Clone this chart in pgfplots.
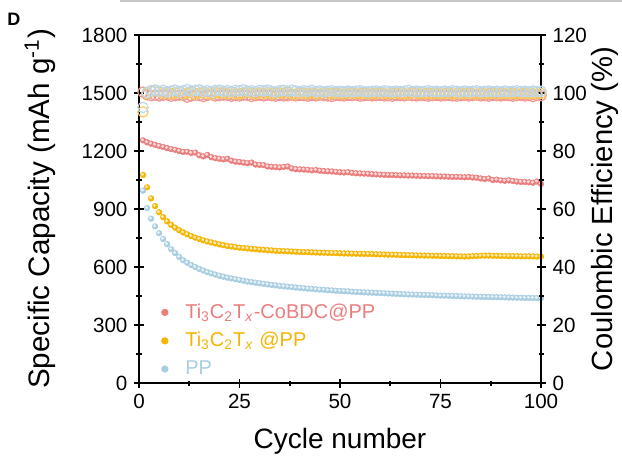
\documentclass[border=0pt]{standalone}
\usepackage{pgfplots}
\pgfplotsset{compat=1.18}
\usepackage{pgfplotstable}
\usepackage{fontspec}
\setmainfont{Liberation Sans}

\definecolor{cred}{RGB}{235,125,125}
\definecolor{cyel}{RGB}{245,180,0}
\definecolor{cblu}{RGB}{168,205,225}
\definecolor{cered}{RGB}{240,150,150}
\definecolor{ceyel}{RGB}{248,200,90}
\definecolor{ceblu}{RGB}{190,215,232}

% cycle, capacity (red, yellow, blue), coulombic efficiency (red, yellow, blue)
\pgfplotstableread{
c R Y B RC YC BC
1 1255 1076 995 100.3 93.5 95.0
2 1245 1012 905 99.4 99.8 100.2
3 1238 955 850 99.1 100.6 100.8
4 1232 915 810 99.3 100.9 101.0
5 1226 883 775 99.0 100.4 100.6
6 1221 858 745 99.2 99.8 100.9
7 1215 836 718 99.4 100.2 100.4
8 1210 818 692 98.9 99.6 100.7
9 1206 803 672 99.1 100.1 101.0
10 1200 790 652 99.3 100.5 100.5
11 1195 779 635 99.2 99.7 100.8
12 1196 769 622 98.6 99.9 101.2
13 1190 760 610 99.0 100.3 100.6
14 1192 752 600 99.3 99.5 100.9
15 1178 745 590 99.1 100.0 101.1
16 1172 738 582 98.8 100.4 100.5
17 1180 732 574 99.2 99.8 100.8
18 1168 727 567 99.4 99.6 100.4
19 1163 722 561 99.0 100.2 100.9
20 1160 717 555 99.1 99.9 101.0
21 1157 713 550 99.3 100.1 100.6
22 1160 709 545 99.2 99.7 100.8
23 1150 706 541 98.9 100.3 100.5
24 1145 703 537 99.1 99.8 100.9
25 1143 700 533 99.0 99.6 100.7
26 1140 698 529 99.3 100.0 101.1
27 1137 696 525 99.2 100.5 100.6
28 1140 694 522 98.8 99.9 100.8
29 1130 692 519 99.1 99.7 100.5
30 1128 690 516 99.2 100.1 100.9
31 1127 689 513 99.0 99.8 100.7
32 1120 687 510 99.3 100.2 101.0
33 1118 686 507 99.1 99.6 100.6
34 1117 684 505 98.9 99.9 100.4
35 1115 683 502 99.2 100.1 100.8
36 1118 682 500 99.0 99.8 100.9
37 1120 681 498 99.1 100.3 100.6
38 1110 680 496 99.3 99.7 101.0
39 1106 679 494 99.0 99.5 100.7
40 1105 678 492 99.2 100.0 100.5
41 1104 677 490 99.1 99.9 100.8
42 1103 677 488 98.9 99.7 100.6
43 1100 676 487 99.2 100.1 100.9
44 1102 675 485 99.0 99.8 100.5
45 1098 674 483 99.3 99.6 100.7
46 1096 674 482 99.1 100.2 100.4
47 1095 673 480 99.0 99.9 100.6
48 1094 672 479 98.8 99.7 100.8
49 1092 672 477 99.2 100.0 100.5
50 1090 671 476 99.1 99.8 100.6
51 1089 670 475 99.0 99.6 100.4
52 1090 670 474 99.2 99.9 100.7
53 1087 669 472 99.1 100.1 100.5
54 1085 669 471 99.3 99.7 100.6
55 1084 668 470 98.9 99.8 100.8
56 1083 668 469 99.1 100.0 100.5
57 1082 667 468 99.2 99.6 100.4
58 1080 667 467 99.0 99.9 100.6
59 1079 666 466 99.1 99.7 100.7
60 1078 665 465 99.2 100.1 100.5
61 1077 665 464 99.0 99.8 100.8
62 1076 664 463 99.1 99.6 100.6
63 1076 664 462 98.9 99.9 100.4
64 1075 663 461 99.2 100.0 100.7
65 1074 662 460 99.1 99.7 100.5
66 1074 662 459 99.0 99.8 100.6
67 1073 661 458 99.3 99.6 100.9
68 1073 661 458 99.1 100.1 100.5
69 1072 660 457 99.0 99.9 100.7
70 1071 660 456 99.2 99.7 100.4
71 1071 659 455 99.1 99.8 100.6
72 1070 659 455 98.9 100.0 100.8
73 1070 658 454 99.1 99.6 100.5
74 1069 658 453 99.2 99.9 100.6
75 1068 657 452 99.0 99.7 100.4
76 1068 657 452 99.1 99.8 100.7
77 1067 656 451 99.2 100.1 100.5
78 1066 656 450 99.0 99.6 100.8
79 1066 655 450 98.9 99.8 100.6
80 1065 655 449 99.1 99.9 100.4
81 1064 654 448 99.2 99.7 100.7
82 1066 655 448 99.0 100.0 100.5
83 1063 656 447 99.1 99.8 100.6
84 1062 657 446 99.3 99.6 100.8
85 1058 658 446 99.0 99.9 100.4
86 1055 659 445 99.1 99.7 100.6
87 1058 659 445 98.9 99.8 100.7
88 1050 658 444 99.2 100.0 100.5
89 1052 658 444 99.1 99.6 100.6
90 1048 657 443 99.0 99.9 100.4
91 1046 657 443 99.2 99.8 100.7
92 1048 656 442 99.1 99.7 100.5
93 1045 656 442 98.9 100.0 100.6
94 1042 656 441 99.1 99.6 100.8
95 1040 655 441 99.2 99.8 100.5
96 1040 655 440 99.0 99.9 100.6
97 1038 655 440 99.1 99.7 100.4
98 1036 655 440 98.8 99.8 100.7
99 1042 654 439 99.2 99.6 100.5
100 1030 654 439 99.1 99.9 100.6
}\cycdata

\pgfplotsset{
  common/.style={
    width=201pt, height=174pt, scale only axis,
    at={(69.5pt,37pt)},
    xmin=0, xmax=100,
    axis line style={line width=0.9pt},
    tick style={black, line width=0.8pt},
    major tick length=4.5pt, minor tick length=2.5pt,
    tick align=center,
    ticklabel style={font=\fontsize{10.3}{11}\selectfont},
    /pgf/number format/assume math mode=true,
    /pgf/number format/1000 sep={},
    label style={font=\fontsize{14}{16}\selectfont},
  },
  capa/.style={color=#1, only marks, mark=*, mark size=1.45pt,
    mark options={draw=#1, fill=#1, line width=0.2pt}},
  shine/.style={color=#1!30!white, only marks, mark=*, mark size=0.55pt, forget plot,
    mark options={draw=none, fill=#1!30!white, xshift=-0.3pt, yshift=0.3pt}},
  ce/.style={only marks, mark=o, mark size=2.6pt, mark options={draw=#1, fill=white, line width=0.6pt}},
}

\begin{document}
\begin{tikzpicture}
\path[use as bounding box] (0,0) rectangle (311pt,228.5pt);
\draw[gray!45, line width=1.2pt] (60pt,228pt) -- (311pt,228pt);
\node[font=\bfseries\fontsize{9}{10}\selectfont] at (7pt,219pt) {D};

\begin{axis}[
  common,
  ymin=0, ymax=1800,
  xtick={0,25,50,75,100}, minor x tick num=1,
  ytick={0,300,...,1800}, minor y tick num=1,
  xtick pos=bottom, ytick pos=left,
  xlabel={Cycle number},
  ylabel={Specific Capacity (mAh g\textsuperscript{-1})},
  xlabel style={at={(axis description cs:0.5,0)}, anchor=base, yshift=-32.5pt},
  ylabel style={at={(axis description cs:-0.246,0.5)}, anchor=center, font=\fontsize{14.8}{16}\selectfont},
  legend cell align=left,
  legend style={draw=none, fill=none, at={(0.04,-0.008)}, anchor=south west,
    font=\fontsize{10}{12}\selectfont, row sep=1.5pt},
  legend image post style={mark size=1.7pt},
]
\addplot[capa=cred] table[x=c, y=R] {\cycdata};
\addlegendentry{\hspace*{6.5pt}\textcolor{cred}{Ti\textsubscript{3}C\textsubscript{2}T\textsubscript{\textit{x}}-CoBDC@PP}}
\addplot[capa=cyel] table[x=c, y=Y] {\cycdata};
\addlegendentry{\hspace*{6.5pt}\textcolor{cyel}{Ti\textsubscript{3}C\textsubscript{2}T\textsubscript{\textit{x}} @PP}}
\addplot[capa=cblu] table[x=c, y=B] {\cycdata};
\addlegendentry{\hspace*{6.5pt}\textcolor{cblu}{PP}}
\addplot[shine=cred] table[x=c, y=R] {\cycdata};
\addplot[shine=cyel] table[x=c, y=Y] {\cycdata};
\addplot[shine=cblu] table[x=c, y=B] {\cycdata};
\end{axis}

\begin{axis}[
  common,
  ymin=0, ymax=120,
  axis x line=none, axis y line*=right,
  ytick={0,20,...,120}, minor y tick num=1,
  ylabel={Coulombic Efficiency (\%)},
  ylabel style={at={(axis description cs:1.159,0.5)}, anchor=center, font=\fontsize{14.6}{16}\selectfont},
]
\addplot[ce=cered] table[x=c, y=RC] {\cycdata};
\addplot[ce=ceyel] table[x=c, y=YC] {\cycdata};
\addplot[ce=ceblu] table[x=c, y=BC] {\cycdata};
\end{axis}
\end{tikzpicture}
\end{document}
